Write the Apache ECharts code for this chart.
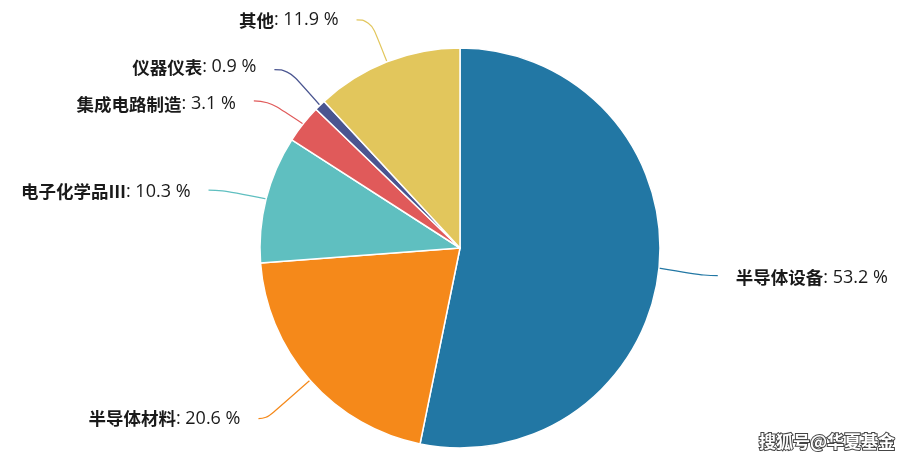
<!DOCTYPE html>
<html><head><meta charset="utf-8">
<script src="https://cdn.jsdelivr.net/npm/echarts@6/dist/echarts.min.js"></script>
<style>html,body{margin:0;padding:0;background:#fff}#c{width:910px;height:462px}</style>
</head><body><div id="c"></div>
<script>
const categories = ['半导体设备','半导体材料','电子化学品Ⅲ','集成电路制造','仪器仪表','其他'];
const values = [53.2, 20.6, 10.3, 3.1, 0.9, 11.9];
const colors = ['#2277a4','#f5891a','#5fbfc0','#e05a5a','#4a5590','#e2c65c'];
const watermark = '搜狐号@华夏基金';

const lineLen = [45, 58, 45, 45, 45, 45];
const lineLen2 = [14, 8, 14, 14, 14, 14];
const labelDy = [5, 0, 4, 8, -6, 0];
const chart = echarts.init(document.getElementById('c'));
chart.setOption({
  backgroundColor: '#fff',
  color: colors,
  graphic: [{
    type: 'text', right: 14, bottom: 11,
    style: { text: watermark, fontSize: 17, fontWeight: 'bold', fill: '#fff', stroke: '#444', lineWidth: 2,
      fontFamily: 'Noto Sans CJK SC' }
  }],
  series: [{
    type: 'pie',
    center: [460, 248],
    radius: 200,
    startAngle: 90,
    clockwise: true,
    animation: false,
    itemStyle: { borderColor: '#fff', borderWidth: 1.5 },
    label: {
      distanceToLabelLine: 18,
      formatter: p => '{n|' + p.name + '}{v|: ' + p.value.toFixed(1) + ' %}',
      rich: {
        n: { fontSize: 17.5, fontWeight: 'bold', color: '#1a1a1a', fontFamily: 'Noto Sans CJK SC' },
        v: { fontSize: 18, color: '#1a1a1a', fontFamily: 'Open Sans, Noto Sans CJK SC' }
      }
    },
    labelLayout: p => {
      const dy = labelDy[p.dataIndex];
      const out = { dy: dy };
      if (p.labelLinePoints && dy) {
        const pts = p.labelLinePoints.map(q => [q[0], q[1]]);
        pts[1][1] += dy * 0.6;
        pts[2][1] += dy * 0.6;
        out.labelLinePoints = pts;
      }
      return out;
    },
    labelLine: { length: 45, length2: 14, smooth: 0.5, lineStyle: { width: 1.2 } },
    data: categories.map((c, i) => ({ name: c, value: values[i], labelLine: { length: lineLen[i], length2: lineLen2[i] } }))
  }]
});
</script></body></html>
